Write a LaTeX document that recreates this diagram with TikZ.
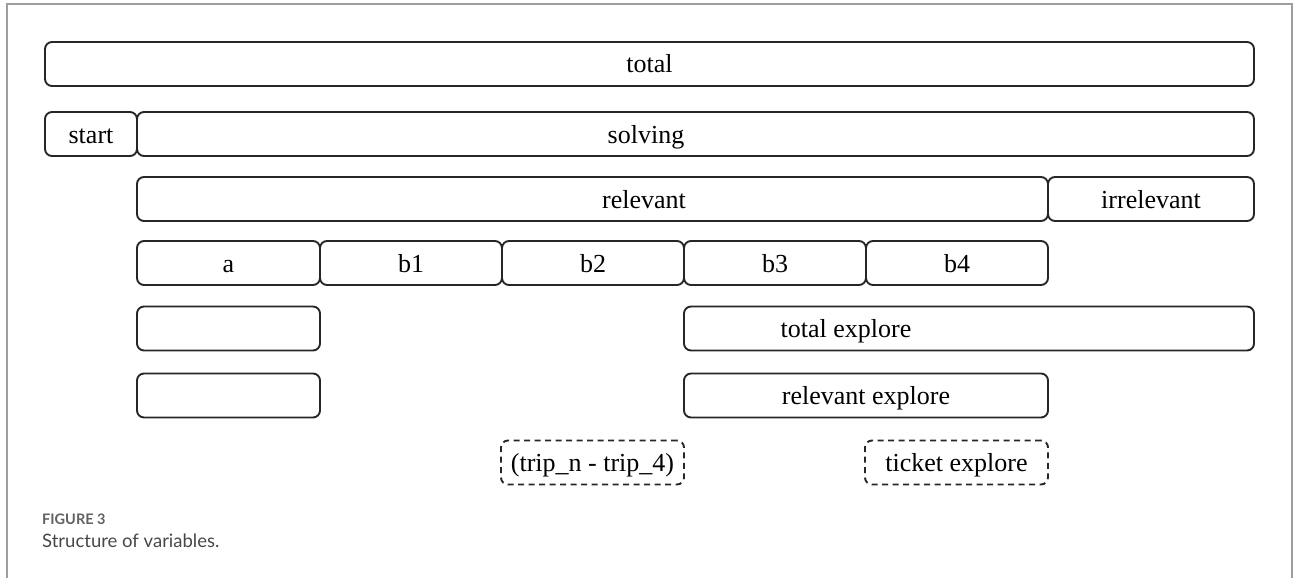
\documentclass[tikz,border=0pt]{standalone}
\usepackage{fontspec}
\setmainfont{Liberation Serif}
\newfontfamily\capfont{Lato}
\begin{document}
\begin{tikzpicture}[x=1pt,y=-1pt,
  font=\fontsize{26}{30}\selectfont,
  % equal text box for every label, so baselines line up across a row
  txtalign/.style={text height=18pt, text depth=0pt},
  every label/.append style={txtalign},
  vbox/.style={draw=black!85, line width=1.9pt, rounded corners=7pt,
    inner sep=0pt, minimum height=44pt, txtalign},
  dbox/.style={vbox, dash pattern=on 6pt off 4.5pt},
  frameline/.style={draw=black!38, line width=1.3pt},
  captitle/.style={anchor=base west, inner sep=0pt, text=black!62,
    font=\capfont\bfseries\fontsize{14.5}{17}\selectfont},
  captext/.style={anchor=base west, inner sep=0pt, text=black!72,
    font=\capfont\fontsize{18.5}{22}\selectfont}]
\useasboundingbox (0,0) rectangle (1293,578);

% page frame (open at the bottom)
\coordinate (fbl) at (7,578);
\coordinate (ftl) at (7,4);
\coordinate (ftr) at (1292,4);
\coordinate (fbr) at (1292,578);
\draw[frameline] (fbl) -- (ftl) -- (ftr) -- (fbr);

% level 1
\node[vbox, minimum width=1209pt] (total) at (649.5,64) {total};

% level 2
\node[vbox, minimum width=92pt] (start) at (91,134) {start};
\node[vbox, minimum width=1117pt,
  label={[xshift=-49.5pt]center:solving}] (solving) at (695.5,134) {};

% level 3
\node[vbox, minimum width=911pt,
  label={[xshift=51.5pt]center:relevant}] (relevant) at (592.5,199) {};
\node[vbox, minimum width=206pt] (irrelevant) at (1151,199) {irrelevant};

% level 4
\node[vbox, minimum width=183pt] (a)  at (228.5,263) {a};
\node[vbox, minimum width=182pt] (b1) at (411,263) {b1};
\node[vbox, minimum width=182pt] (b2) at (593,263) {b2};
\node[vbox, minimum width=182pt] (b3) at (775,263) {b3};
\node[vbox, minimum width=182pt] (b4) at (957,263) {b4};

% level 5
\node[vbox, minimum width=183pt] (a5) at (228.5,328.5) {};
\node[vbox, minimum width=570pt,
  label={[xshift=-123pt]center:total explore}] (totexp) at (969,328.5) {};

% level 6
\node[vbox, minimum width=183pt] (a6) at (228.5,395.5) {};
\node[vbox, minimum width=364pt] (relexp) at (866,395.5) {relevant explore};

% level 7 (dashed)
\node[dbox, minimum width=183pt] (trip) at (592.5,462.5) {(trip\_n - trip\_4)};
\node[dbox, minimum width=183pt] (ticket) at (956.5,462.5) {ticket explore};

% caption
\node[captitle] (figno) at (42,524) {FIGURE 3};
\node[captext] (figcap) at (42,547.5) {Structure of variables.};
\end{tikzpicture}
\end{document}
